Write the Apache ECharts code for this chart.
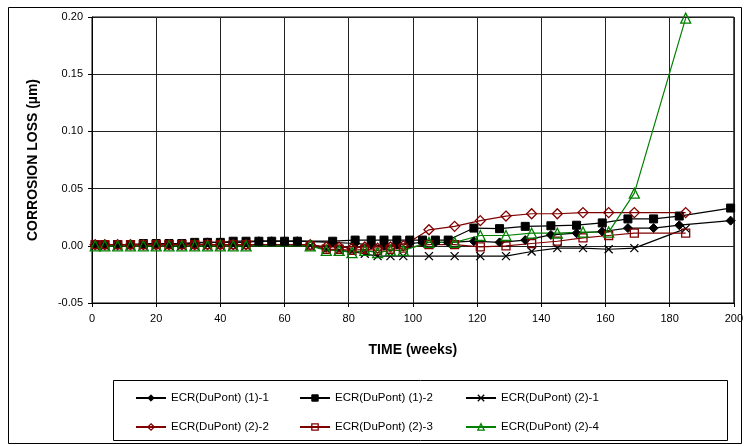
<!DOCTYPE html>
<html>
<head>
<meta charset="utf-8">
<script src="https://cdn.jsdelivr.net/npm/echarts@6/dist/echarts.min.js"></script>
<style>html,body{margin:0;padding:0;background:#fff;}#c{width:746px;height:446px;}</style>
</head>
<body>
<div id="c"></div>
<script>
// Time points (weeks)
var weeks1 = [1,4,8,12,16,20,24,28,32,36,40,44,48,52,56,60,64,75,82,87,91,95,99,103,107,111,119,127,135,143,151,159,167,175,183,199];
var weeks2 = [1,4,8,12,16,20,24,28,32,36,40,44,48,68,73,77,81,85,89,93,97,105,113,121,129,137,145,153,161,169,185];

// Corrosion loss (µm)
var ecr11 = [0.001,0.001,0.001,0.001,0.001,0.001,0.002,0.002,0.002,0.003,0.003,0.003,0.003,0.004,0.004,0.004,0.004,
             0.003,0.002,0.001,0.000,0.001,0.002,0.003,0.003,0.003,0.004,0.003,0.005,0.0095,0.011,0.0125,0.0155,0.0155,0.018,0.022];
var ecr12 = [0.001,0.001,0.001,0.001,0.002,0.002,0.002,0.002,0.003,0.003,0.003,0.004,0.004,0.004,0.004,0.004,0.004,
             0.004,0.005,0.005,0.005,0.005,0.005,0.005,0.005,0.005,0.0155,0.015,0.017,0.0175,0.018,0.020,0.0235,0.0235,0.026,0.033];
var ecr21 = [0,0,0,0,0,0,0,0,0,0,0,0,0,
             0.000,-0.003,-0.004,-0.005,-0.007,-0.009,-0.009,-0.009,-0.009,-0.009,-0.009,-0.009,-0.005,-0.002,-0.002,-0.003,-0.002,0.015];
var ecr22 = [0.001,0.001,0.001,0.001,0.001,0.001,0.001,0.001,0.001,0.001,0.001,0.001,0.001,
             0.001,-0.001,-0.001,-0.002,-0.001,-0.002,-0.001,0.000,0.014,0.017,0.022,0.026,0.028,0.028,0.029,0.029,0.029,0.029];
var ecr23 = [0.001,0.001,0.001,0.001,0.001,0.001,0.001,0.001,0.001,0.001,0.001,0.001,0.001,
             0.000,-0.003,-0.003,-0.004,-0.003,-0.004,-0.003,-0.002,0.001,0.001,-0.001,0.000,0.002,0.004,0.007,0.009,0.011,0.011];
var ecr24 = [0,0,0,0,0,0,0,0,0,0,0,0,0,
             0.000,-0.004,-0.004,-0.006,-0.004,-0.006,-0.004,-0.004,0.003,0.003,0.009,0.009,0.011,0.011,0.012,0.012,0.046,0.199];

var names = ['ECR(DuPont) (1)-1','ECR(DuPont) (1)-2','ECR(DuPont) (2)-1','ECR(DuPont) (2)-2','ECR(DuPont) (2)-3','ECR(DuPont) (2)-4'];

// Tick values (drawn by the axes)
var yTicks = [-0.05, 0.00, 0.05, 0.10, 0.15, 0.20];
var xTicks = [0, 20, 40, 60, 80, 100, 120, 140, 160, 180, 200];

function pairs(xs, ys){ return xs.map(function(x,i){ return [x, ys[i]]; }); }

var FONT = 'Liberation Sans, Arial, sans-serif';
var RED = '#800000', GREEN = '#008000', BLACK = '#000000';
var crossPath = 'path://M0,0L10,10M10,0L0,10';

function style(color, filled){
  return filled ? {color: color, borderColor: color, borderWidth: 1}
                : {color: 'rgba(0,0,0,0)', borderColor: color, borderWidth: 1.3};
}
function mk(name, data, color, symbol, size, filled){
  return {
    name: name, type: 'line', data: data, symbol: symbol, symbolSize: size,
    showAllSymbol: true,
    lineStyle: {color: color, width: 1.2},
    itemStyle: style(color, filled),
    emphasis: {disabled: true},
    z: 2
  };
}

var chart = echarts.init(document.getElementById('c'), null, {renderer: 'canvas'});
var legTop1 = 392, legTop2 = 421;
var legCommon = {itemWidth: 30, itemHeight: 8, textStyle: {fontFamily: FONT, fontSize: 11.5, color: '#000'}, padding: 0, itemGap: 2, selectedMode: false};
function legItem(i, color, filled){ return {name: names[i], itemStyle: style(color, filled)}; }
chart.setOption({
  animation: false,
  backgroundColor: '#fff',
  graphic: [{type: 'rect', shape: {x: 8.5, y: 7.5, width: 733, height: 436}, style: {fill: 'none', stroke: '#000', lineWidth: 1}, silent: true},
            {type: 'rect', shape: {x: 113.5, y: 380.5, width: 614, height: 60}, style: {fill: 'none', stroke: '#000', lineWidth: 1}, silent: true}],
  grid: {left: 92, right: 12, top: 17, bottom: 143, show: true, borderColor: '#000', borderWidth: 1, containLabel: false},
  xAxis: {
    type: 'value', min: 0, max: 200, interval: 20,
    name: 'TIME (weeks)', nameLocation: 'middle', nameGap: 40,
    nameTextStyle: {fontFamily: FONT, fontSize: 14, fontWeight: 'bold', color: '#000'},
    axisLine: {onZero: false, lineStyle: {color: '#000', width: 1}},
    axisTick: {show: true, length: 4, lineStyle: {color: '#000'}},
    axisLabel: {fontFamily: FONT, fontSize: 11, color: '#000', margin: 10},
    splitLine: {show: true, lineStyle: {color: '#222', width: 1}}
  },
  yAxis: {
    type: 'value', min: -0.05, max: 0.2, interval: 0.05,
    name: 'CORROSION LOSS (µm)', nameLocation: 'middle', nameGap: 52, nameRotate: 90,
    nameTextStyle: {fontFamily: FONT, fontSize: 14, fontWeight: 'bold', color: '#000'},
    axisLine: {show: true, onZero: false, lineStyle: {color: '#000', width: 1}},
    axisTick: {show: true, length: 4, lineStyle: {color: '#000'}},
    axisLabel: {fontFamily: FONT, fontSize: 11, color: '#000', margin: 9, formatter: function(v){ return (Math.abs(v) < 1e-9 ? 0 : v).toFixed(2); }},
    splitLine: {show: true, lineStyle: {color: '#222', width: 1}}
  },
  legend: [
    Object.assign({data: [legItem(0, BLACK, true)], left: 135, top: legTop1}, legCommon),
    Object.assign({data: [legItem(1, BLACK, true)], left: 299, top: legTop1}, legCommon),
    Object.assign({data: [legItem(2, BLACK, false)], left: 465, top: legTop1}, legCommon),
    Object.assign({data: [legItem(3, RED, false)], left: 135, top: legTop2}, legCommon),
    Object.assign({data: [legItem(4, RED, false)], left: 299, top: legTop2}, legCommon),
    Object.assign({data: [legItem(5, GREEN, false)], left: 465, top: legTop2}, legCommon)
  ],
  series: [
    mk(names[0], pairs(weeks1, ecr11), BLACK, 'diamond', 9, true),
    mk(names[1], pairs(weeks1, ecr12), BLACK, 'rect', 8, true),
    mk(names[2], pairs(weeks2, ecr21), BLACK, crossPath, 8, false),
    mk(names[3], pairs(weeks2, ecr22), RED, 'diamond', 10, false),
    mk(names[4], pairs(weeks2, ecr23), RED, 'rect', 8, false),
    mk(names[5], pairs(weeks2, ecr24), GREEN, 'triangle', 10, false)
  ]
});
</script>
</body>
</html>
